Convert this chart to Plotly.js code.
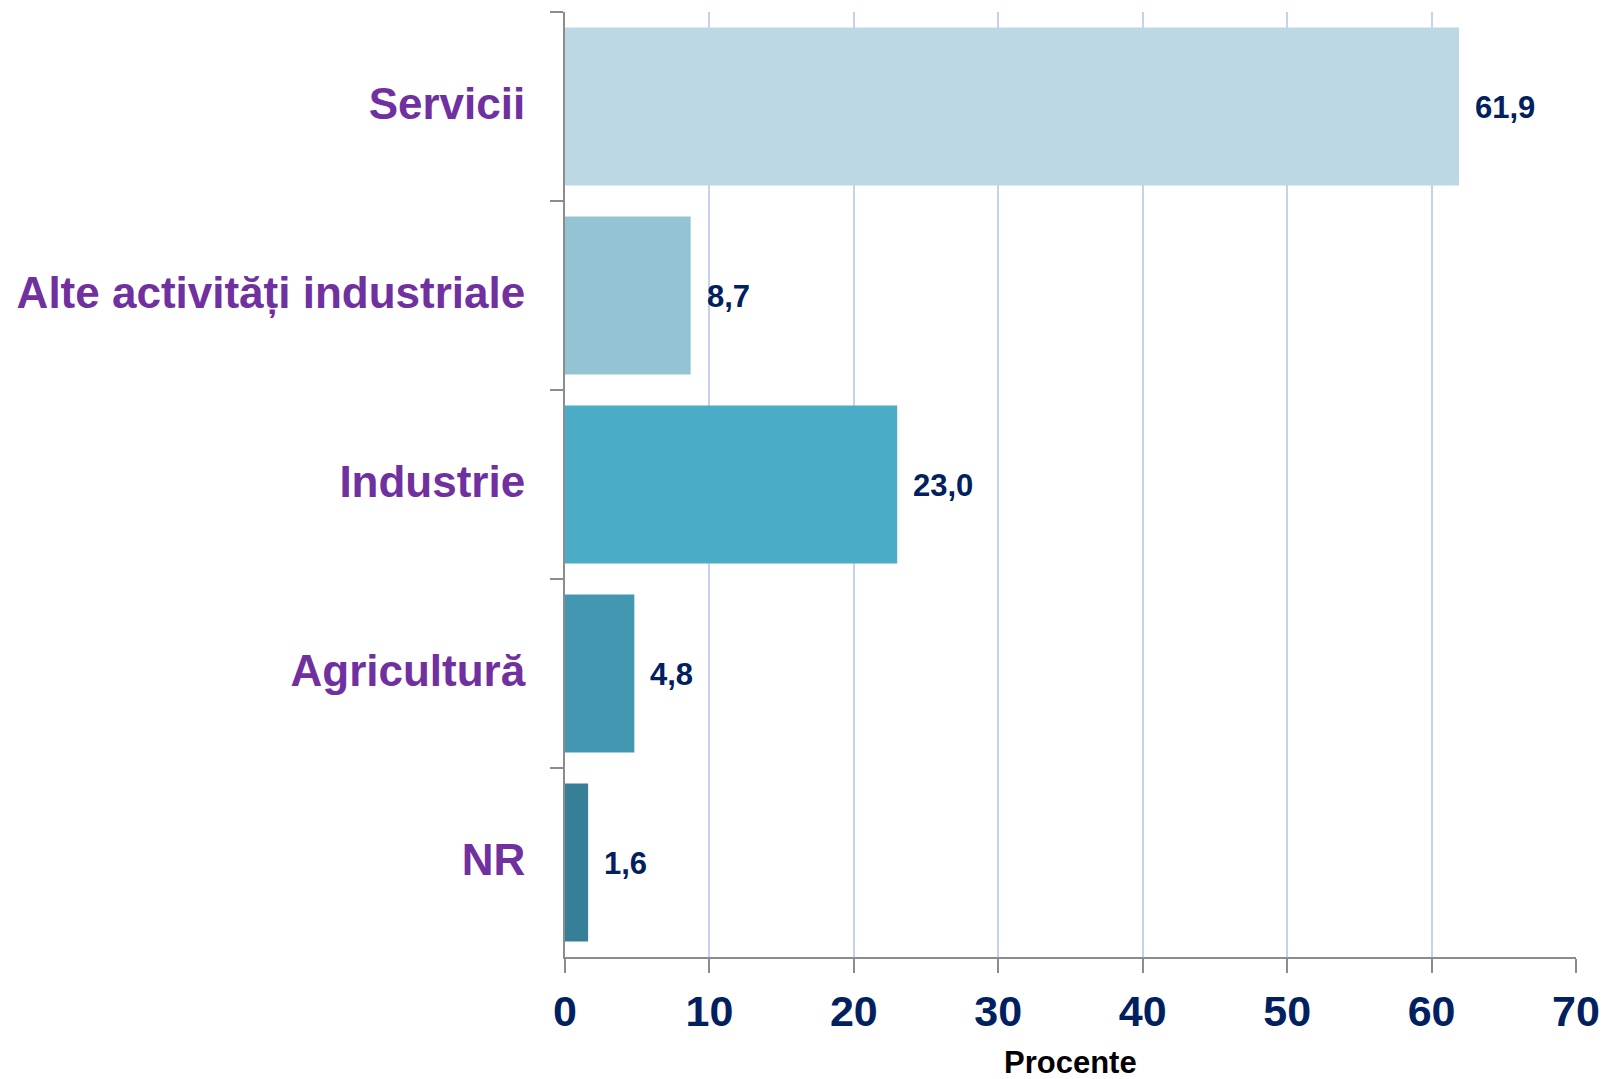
<!DOCTYPE html>
<html>
<head>
<meta charset="utf-8">
<script src="https://cdn.plot.ly/plotly-3.0.1.min.js"></script>
<style>html,body{margin:0;padding:0;background:#fff;}#chart{width:1603px;height:1079px;}</style>
</head>
<body>
<div id="chart"></div>
<script>
const categories = ["Servicii", "Alte activități industriale", "Industrie", "Agricultură", "NR"];
const values = [61.9, 8.7, 23.0, 4.8, 1.6];
const valueLabels = ["61,9", "8,7", "23,0", "4,8", "1,6"];
const barColors = ["#bcd8e4", "#94c4d4", "#4aacc6", "#4397b0", "#367f96"];
const xTicks = [0, 10, 20, 30, 40, 50, 60, 70];
const xTitle = "Procente";

const trace = {
  type: "bar",
  orientation: "h",
  x: values,
  y: categories,
  marker: {color: barColors, line: {width: 0}},
  hoverinfo: "none"
};

const annotations = categories.map((c, i) => ({
  x: values[i], y: c, xref: "x", yref: "y",
  text: valueLabels[i], showarrow: false,
  xanchor: "left", yanchor: "middle", xshift: 14, yshift: -1,
  font: {family: "Liberation Sans, Arial, sans-serif", size: 31, color: "#002060", weight: "bold"}
}));
annotations.push({
  x: 0.5, y: 0, xref: "paper", yref: "paper",
  text: xTitle, showarrow: false, borderpad: 0,
  xanchor: "center", yanchor: "middle", yshift: -105,
  font: {family: "Liberation Sans, Arial, sans-serif", size: 31, color: "#000000", weight: "bold"}
});

const layout = {
  width: 1603, height: 1079,
  margin: {l: 565, r: 27, t: 12, b: 122},
  paper_bgcolor: "#ffffff", plot_bgcolor: "#ffffff",
  showlegend: false,
  bargap: 0.165,
  xaxis: {
    range: [0, 70],
    tickvals: xTicks, ticktext: xTicks.map(String),
    showgrid: true, gridcolor: "#c3d3ee", gridwidth: 2,
    zeroline: false,
    showline: true, linecolor: "#8c8c8c", linewidth: 2,
    ticks: "outside", ticklen: 14, tickcolor: "#8c8c8c", tickwidth: 2,
    ticklabelstandoff: 1,
    tickfont: {family: "Liberation Sans, Arial, sans-serif", size: 43, color: "#002060", weight: "bold"}
  },
  yaxis: {
    type: "category",
    autorange: "reversed",
    showgrid: false, zeroline: false,
    showline: true, linecolor: "#8c8c8c", linewidth: 2,
    ticks: "outside", tickson: "boundaries", ticklen: 13, tickcolor: "#8c8c8c", tickwidth: 2,
    ticklabelstandoff: 29,
    ticklabelshift: 3,
    tickfont: {family: "Liberation Sans, Arial, sans-serif", size: 44, color: "#7030a0", weight: "bold"}
  },
  annotations: annotations
};

Plotly.newPlot("chart", [trace], layout, {displayModeBar: false, staticPlot: true});
</script>
</body>
</html>
